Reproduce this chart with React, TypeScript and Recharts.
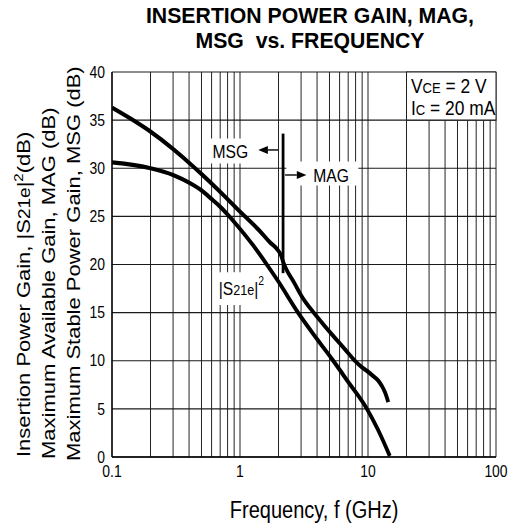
import React from 'react';
import { LineChart, Line, XAxis, YAxis, CartesianGrid, ReferenceArea, ReferenceLine } from 'recharts';

// the scanned sheet is squeezed horizontally, so the chart is drawn wider and squeezed back
const S = 0.87;
const W = 590;
const H = 526;
const FONT = '"Liberation Sans", Arial, Helvetica, sans-serif';

const freqTicks = [0.1, 0.2, 0.3, 0.4, 0.5, 0.6, 0.7, 0.8, 0.9, 1, 2, 3, 4, 5, 6, 7, 8, 9, 10, 20, 30, 40, 50, 60, 70, 80, 90, 100];
const decades = [0.1, 1, 10, 100];
const decadeLabels = ['0.1', '1', '10', '100'];
const gainTicks = [0, 5, 10, 15, 20, 25, 30, 35, 40];

// MSG (below ~2.2 GHz) then MAG
const msgMagFreq = [0.1, 0.14, 0.2, 0.3, 0.43, 0.5, 0.7, 1, 1.4, 1.7, 2.0, 2.1, 2.17, 2.3, 2.6, 3.1, 3.74, 4.5, 5.5, 6.6, 7.9, 9.0, 9.8, 10.9, 12.0, 12.8, 13.6, 14.4];
const msgMagDb = [36.3, 35.15, 33.8, 32.0, 30.2, 29.4, 27.55, 25.5, 23.6, 22.35, 21.4, 20.9, 20.3, 19.5, 18.3, 16.5, 15.05, 13.75, 12.4, 11.2, 10.0, 9.3, 8.95, 8.45, 7.95, 7.4, 6.7, 5.7];

// |S21e|^2
const s21Freq = [0.1, 0.2, 0.3, 0.4, 0.5, 0.6, 0.7, 0.8, 1, 1.35, 1.62, 2, 2.84, 4, 5.35, 7, 9.86, 12, 14.8];
const s21Db = [30.6, 30.0, 29.3, 28.5, 27.7, 26.8, 26.0, 25.2, 23.7, 21.5, 20.0, 18.2, 15.0, 12.25, 10.0, 7.8, 4.95, 2.8, 0.1];

// MSG / MAG boundary marker
const boundaryFreq = [2.17, 2.17];
const boundaryDb = [33.6, 19.1];

const zip = (fs: number[], vs: number[]) => fs.map((f, i) => ({ f, v: vs[i] }));
const msgMag = zip(msgMagFreq, msgMagDb);
const s21 = zip(s21Freq, s21Db);
const boundary = zip(boundaryFreq, boundaryDb);

const PL = 112 / S;
const PR = 496 / S;
const YW = 40;

const Arrow = (p: any) => {
  const { x1, y1, x2, y2 } = p;
  const d = Math.sign(x2 - x1);
  const L = 11;
  const h = 4;
  return (
    <g>
      <line x1={x1} y1={y1} x2={x2 - d * L} y2={y2} stroke="#000" strokeWidth={1.4} />
      <polygon points={`${x2},${y2} ${x2 - d * L},${y2 - h} ${x2 - d * L},${y2 + h}`} fill="#000" />
    </g>
  );
};

const boxText = (text: string, dx: number, dy: number) => (lp: any) => {
  const vb = lp.viewBox;
  return (
    <text x={vb.x + dx} y={vb.y + dy} fontSize={18} fontFamily={FONT} fill="#000">{text}</text>
  );
};

const s21Text = (lp: any) => {
  const vb = lp.viewBox;
  return (
    <text x={vb.x + 5} y={vb.y + 23} fontSize={18} fontFamily={FONT} fill="#000">
      <tspan>|S</tspan>
      <tspan fontSize={14.5}>21e</tspan>
      <tspan>|</tspan>
      <tspan fontSize={12} dy={-10}>2</tspan>
    </text>
  );
};

const condText = (lp: any) => {
  const vb = lp.viewBox;
  return (
    <text fontSize={20} fontFamily={FONT} fill="#000">
      <tspan x={vb.x + 5} y={vb.y + 21}>V<tspan fontSize={15}>CE</tspan> = 2 V</tspan>
      <tspan x={vb.x + 5} y={vb.y + 43}>I<tspan fontSize={15}>C</tspan> = 20 mA</tspan>
    </text>
  );
};

const yLabel = () => {
  const line = (x: number, y: number, content: React.ReactNode) => (
    <text x={x} y={y} transform={`rotate(-90 ${x} ${y})`} textAnchor="start" fontSize={22} fontFamily={FONT} fill="#000">
      {content}
    </text>
  );
  return (
    <g>
      {line(34, 457, <>Insertion Power Gain, |S<tspan fontSize={19}>21e</tspan>|<tspan fontSize={15} dy={-8}>2</tspan><tspan dy={8}>(dB)</tspan></>)}
      {line(63, 459, 'Maximum Available Gain, MAG (dB)')}
      {line(92, 461, 'Maximum Stable Power Gain, MSG (dB)')}
    </g>
  );
};

const xLabel = (lp: any) => {
  const vb = lp.viewBox;
  return (
    <text x={361} y={vb.y + 61} textAnchor="middle" fontSize={23} fontFamily={FONT} fill="#000">
      Frequency, f (GHz)
    </text>
  );
};

export default function App() {
  return (
    <div style={{ position: 'absolute', left: 0, top: 0, width: 513, height: 526, overflow: 'hidden', background: '#fff', fontFamily: FONT }}>
      <div style={{ position: 'absolute', left: 0, top: 0, width: W, height: H, transform: `scaleX(${S})`, transformOrigin: '0 0' }}>
        <LineChart width={W} height={H} margin={{ top: 72, right: W - PR, bottom: 0, left: PL - YW }}>
          <CartesianGrid stroke="#1a1a1a" strokeWidth={1.1} />
          <XAxis
            dataKey="f"
            type="number"
            scale="log"
            domain={[0.1, 100]}
            allowDataOverflow
            ticks={freqTicks}
            interval={0}
            tickFormatter={(f: number) => decadeLabels[decades.indexOf(f)] ?? ''}
            tickLine={false}
            tickSize={6}
            tickMargin={3}
            height={69}
            axisLine={{ stroke: '#000', strokeWidth: 1.5 }}
            tick={{ fill: '#000', fontSize: 16, fontFamily: FONT }}
            label={xLabel}
          />
          <YAxis
            dataKey="v"
            type="number"
            domain={[0, 40]}
            ticks={gainTicks}
            interval={0}
            width={YW}
            tickLine={false}
            axisLine={{ stroke: '#000', strokeWidth: 1.5 }}
            tick={{ fill: '#000', fontSize: 16, fontFamily: FONT }}
            label={yLabel}
          />
          <ReferenceArea x1={20} x2={100} y1={35} y2={40} fill="#fff" fillOpacity={1} stroke="#1a1a1a" strokeWidth={1.1} label={condText} />
          <ReferenceArea x1={0.53} x2={1.9} y1={30.5} y2={33.1} fill="#fff" fillOpacity={1} stroke="none" label={boxText('MSG', 9, 20)} />
          <ReferenceArea x1={2.3} x2={8.4} y1={28.2} y2={30.7} fill="#fff" fillOpacity={1} stroke="none" label={boxText('MAG', 31, 21)} />
          <ReferenceArea x1={0.63} x2={1.6} y1={15.8} y2={19.2} fill="#fff" fillOpacity={1} stroke="none" label={s21Text} />
          <ReferenceLine segment={[{ x: 1.99, y: 31.9 }, { x: 1.39, y: 31.9 }]} shape={Arrow} />
          <ReferenceLine segment={[{ x: 2.25, y: 29.3 }, { x: 3.3, y: 29.3 }]} shape={Arrow} />
          <Line data={msgMag} dataKey="v" type="monotone" stroke="#000" strokeWidth={4.3} dot={false} isAnimationActive={false} />
          <Line data={s21} dataKey="v" type="monotone" stroke="#000" strokeWidth={4.3} dot={false} isAnimationActive={false} />
          <Line data={boundary} dataKey="v" type="linear" stroke="#000" strokeWidth={3.2} dot={false} isAnimationActive={false} />
        </LineChart>
      </div>
      <div style={{ position: 'absolute', left: 310 - 200, top: 3, width: 400, transform: 'scaleX(0.944)', transformOrigin: '200px 0', textAlign: 'center', fontWeight: 'bold', fontSize: 22.5, lineHeight: '25.2px' }}>
        INSERTION POWER GAIN, MAG,<br />MSG&nbsp; vs. FREQUENCY
      </div>
    </div>
  );
}
